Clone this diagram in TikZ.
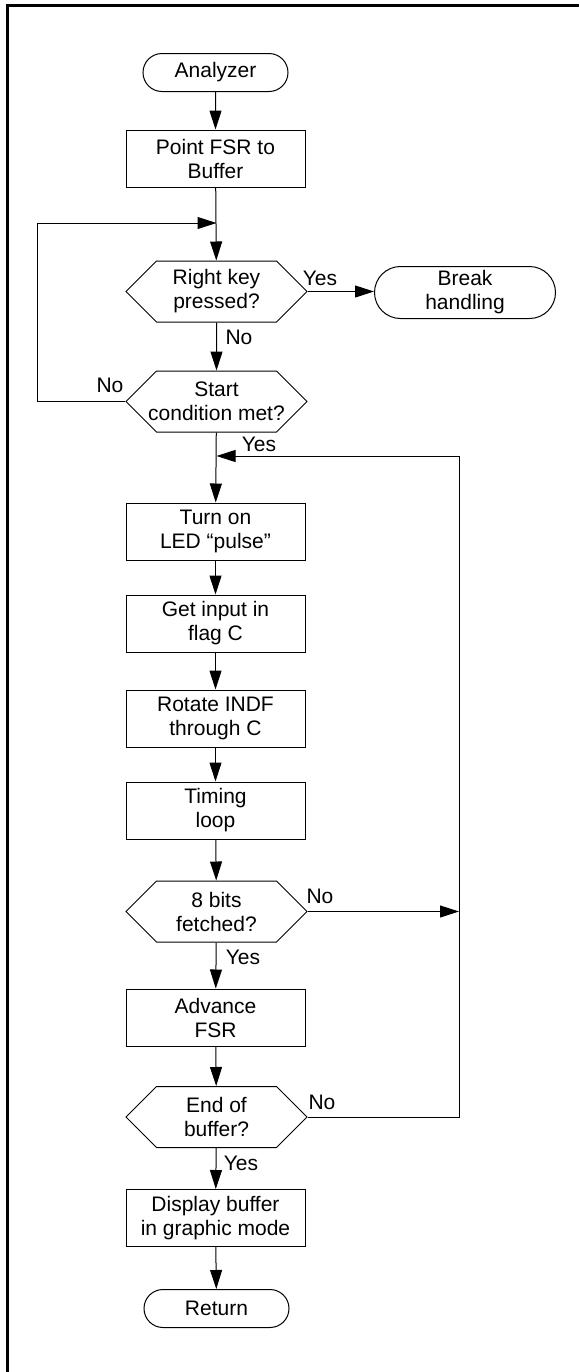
\documentclass[tikz,border=0pt]{standalone}
\usepackage{fontspec}
\setmainfont{Liberation Sans}
\usetikzlibrary{shapes.misc,shapes.symbols,arrows.meta}

\begin{document}
\begin{tikzpicture}
        [
        x=0.5pt, y=-0.5pt,
        font=\fontsize{10.5}{12}\selectfont,
        line width=0.5pt,
        TermNode/.style={rounded rectangle,draw,inner sep=0pt,align=center, minimum width=72.5pt, minimum height=19pt},
        ProcNode/.style={rectangle,draw,inner sep=0pt,align=center, minimum width=89.5pt, minimum height=28.5pt},
        TestNode/.style={signal,signal to=west and east,signal pointer angle=90,draw,inner sep=0pt,align=center, minimum width=90.5pt, minimum height=30.5pt},
        Tag/.style={rectangle,inner sep=0pt},
        Flow/.style={-{Triangle[length=9.5pt,width=6pt]}},
        ]

        \useasboundingbox (0,0) rectangle (579,1372);
        \draw[line width=1.4pt] (7.5,1372) -- (7.5,5.7) -- (579,5.7);

        \node[TermNode] (start) at (215.5, 72.5){Analyzer};
        \node[ProcNode] (fsr) at (215.5, 158.5){Point FSR to\\Buffer};
        \node[TestNode] (key) at (216.5, 291.5){Right key\\pressed?};
        \node[TermNode, minimum width=90.5pt, minimum height=26pt] (brk) at (465, 292.5){Break\\handling};
        \node[TestNode] (cond) at (216.5, 401.5){Start\\\makebox[50pt]{condition met?}};

\node[ProcNode] (led) at (215.5, 531.5){Turn on\\LED “pulse”};
\node[ProcNode] (inp) at (215.5, 623.5){Get input in\\flag C};
\node[ProcNode] (rot) at (215.5, 718.5){Rotate INDF\\through C};
\node[ProcNode] (tim) at (215.5, 810.5){Timing\\loop};
\node[TestNode] (bits) at (216.5, 911.5){8 bits\\fetched?};
\node[ProcNode] (adv) at (215.5, 1017.5){Advance\\FSR};
\node[TestNode] (endb) at (216.5, 1117){End of\\buffer?};
\node[ProcNode] (disp) at (215.5, 1218){Display buffer\\in graphic mode};
\node[TermNode] (ret) at (216.5, 1308.5){Return};

\coordinate (merge) at (216.5, 223);
\coordinate (loopL) at (37, 401.5);
\coordinate (join) at (216.5, 456);
\coordinate (loopR) at (459, 456);

\draw [Flow] (start) -- (fsr);
\draw [Flow] (fsr) -- (key);
\draw [Flow] (key.east) -- (key.east -| brk.west);
\draw [Flow] (key) -- (cond);
\draw [Flow] (cond.west) -- (loopL) |- (merge);
\draw [Flow] (cond) -- (led);
\draw [Flow] (led) -- (inp);
\draw [Flow] (inp) -- (rot);
\draw [Flow] (rot) -- (tim);
\draw [Flow] (tim) -- (bits);
\draw [Flow] (bits) -- (adv);
\draw [Flow] (bits.east) -- (bits.east -| loopR);
\draw [Flow] (adv) -- (endb);
\draw [Flow] (endb.east) -| (loopR) -- (join);
\draw [Flow] (endb) -- (disp);
\draw [Flow] (disp) -- (ret);

\node[Tag] (yesa) at (320, 278){Yes};
\node[Tag] (noa) at (239, 337){No};
\node[Tag] (nob) at (110, 385){No};
\node[Tag] (yesb) at (259, 444){Yes};
\node[Tag] (noc) at (320, 896){No};
\node[Tag] (yesc) at (243, 957){Yes};
\node[Tag] (nod) at (322, 1102){No};
\node[Tag] (yesd) at (241, 1163){Yes};

    \end{tikzpicture}
\end{document}
